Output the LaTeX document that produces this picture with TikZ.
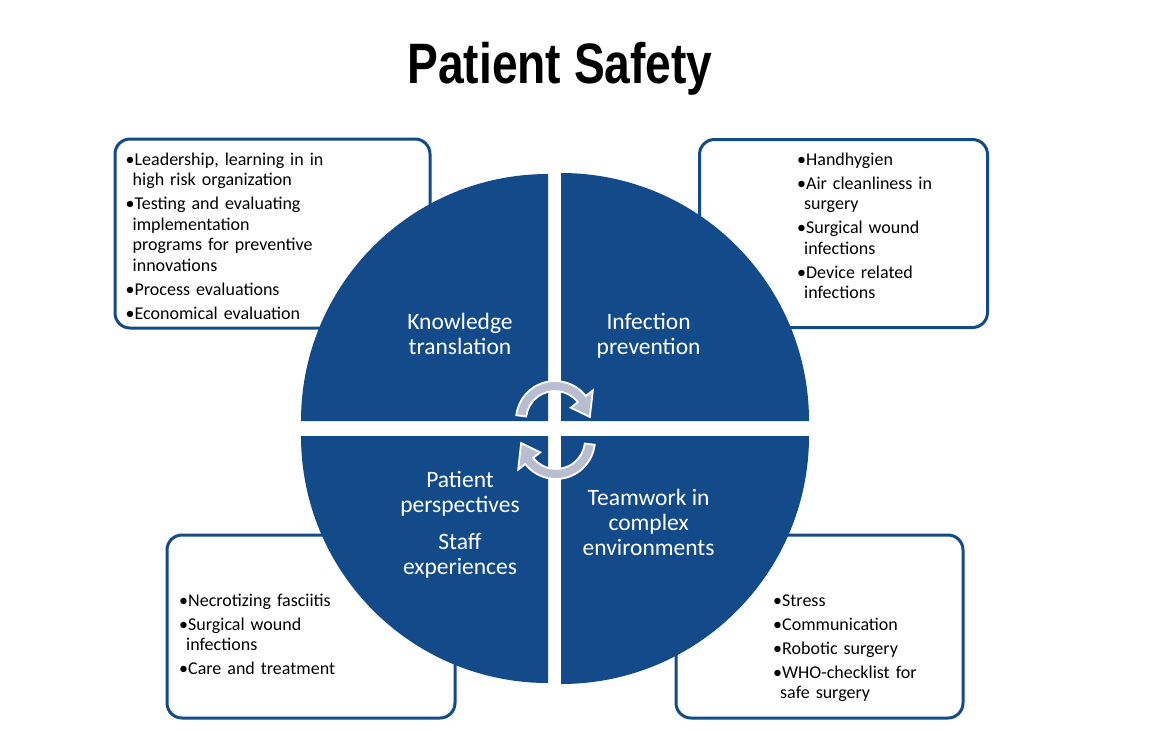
\documentclass[tikz,border=0pt]{standalone}
\usepackage{fontspec}
\setmainfont{Carlito}
\newfontfamily\titlefont{Liberation Sans}
\definecolor{psblue}{RGB}{19,74,138}
\definecolor{arrowgray}{RGB}{184,190,208}
\newcommand\bul[1]{\hangindent=7pt\hangafter=1\noindent\strut\textbullet#1\par}
\tikzset{
  infobox/.style={draw=psblue, line width=3pt, fill=white, rounded corners=15pt, inner sep=0pt},
  quadrant/.style={fill=psblue},
  boxtext/.style={anchor=north west, inner sep=0pt, text width=320pt, font=\fontsize{18}{20.5}\selectfont},
  qlabel/.style={anchor=north, inner sep=0pt, align=center, text=white, font=\fontsize{23.5}{25}\selectfont},
  cyclearrow/.style={fill=arrowgray, draw=white, line width=1.8pt, line join=miter}
}
\begin{document}
\begin{tikzpicture}[x=1pt,y=-1pt]
\fill[white] (0,0) rectangle (1152,748);
\useasboundingbox (0,0) rectangle (1152,748);

% title
\node[anchor=base, inner sep=0pt, font=\titlefont\bfseries\fontsize{57}{60}\selectfont] (title) at (560,83) {\scalebox{0.81}[1]{Patient Safety}};

% info boxes
\node[infobox, minimum width=315pt, minimum height=189pt] (kbox) at (272.5,233.5) {};
\node[infobox, minimum width=288pt, minimum height=188pt] (ibox) at (843.5,233.5) {};
\node[infobox, minimum width=288pt, minimum height=183pt] (pbox) at (311,626.5) {};
\node[infobox, minimum width=287pt, minimum height=183pt] (tbox) at (819.5,626.5) {};

% quadrants
\fill[quadrant] (548,421) -- ++(180:247) arc[start angle=180, end angle=270, radius=247] -- cycle;
\fill[quadrant] (561,421) -- ++(270:248) arc[start angle=270, end angle=360, radius=248] -- cycle;
\fill[quadrant] (561,436) -- ++(0:248) arc[start angle=0, end angle=90, radius=248] -- cycle;
\fill[quadrant] (548,436) -- ++(90:247) arc[start angle=90, end angle=180, radius=247] -- cycle;

% cycle arrows
\begin{scope}[shift={(555,420)}]
\filldraw[cyclearrow] (187:39) arc[start angle=187, end angle=322, radius=39] -- (322:48) -- (355:35) -- (322:20) -- (322:29) arc[start angle=322, end angle=187, radius=29] -- cycle;
\end{scope}
\begin{scope}[shift={(556,440)}]
\filldraw[cyclearrow] (7:39) arc[start angle=7, end angle=142, radius=39] -- (142:48) -- (175:35) -- (142:20) -- (142:29) arc[start angle=142, end angle=7, radius=29] -- cycle;
\end{scope}

% quadrant labels
\node[qlabel] (kt) at (460,311.5) {\strut Knowledge\\translation};
\node[qlabel] (ip) at (648.6,311.5) {\strut Infection\\prevention};
\node[qlabel] (pp) at (460,469.5) {\strut Patient\\perspectives\\[12pt]Staff\\experiences};
\node[qlabel] (tw) at (648.6,487.5) {\strut Teamwork in\\complex\\environments};

% box texts
\node[boxtext] (klist) at (125.5,150.5) {\raggedright\setlength{\parskip}{3.5pt}%
\bul{Leadership, learning in in\newline high risk organization}%
\bul{Testing and evaluating\newline implementation\newline programs for preventive\newline innovations}%
\bul{Process evaluations}%
\bul{Economical evaluation}};
\node[boxtext] (ilist) at (797,150.5) {\raggedright\setlength{\parskip}{3.5pt}%
\bul{Handhygien}%
\bul{Air cleanliness in\newline surgery}%
\bul{Surgical wound\newline infections}%
\bul{Device related\newline infections}};
\node[boxtext] (plist) at (179,591.5) {\raggedright\setlength{\parskip}{3.5pt}%
\bul{Necrotizing fasciitis}%
\bul{Surgical wound\newline infections}%
\bul{Care and treatment}};
\node[boxtext] (tlist) at (773,591.5) {\raggedright\setlength{\parskip}{3.5pt}%
\bul{Stress}%
\bul{Communication}%
\bul{Robotic surgery}%
\bul{WHO-checklist for\newline safe surgery}};
\end{tikzpicture}
\end{document}
